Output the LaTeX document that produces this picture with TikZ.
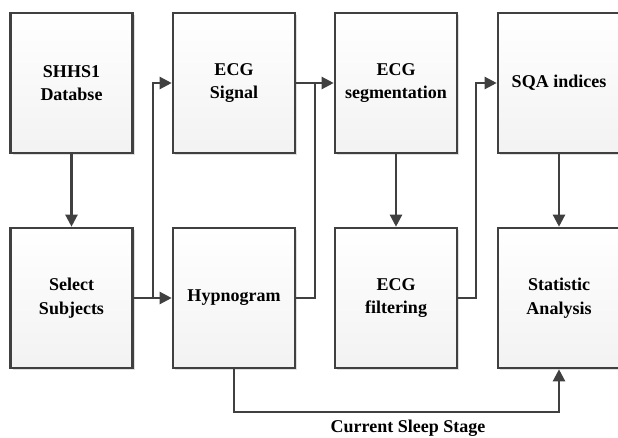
\documentclass[tikz,border=0pt]{standalone}
\usepackage{fontspec}
\setmainfont{Liberation Serif}
\usetikzlibrary{arrows.meta,shadows,calc}
\definecolor{lc}{HTML}{404040}
\begin{document}
\begin{tikzpicture}[x=1pt,y=-1pt,
  blk/.style={draw=lc, line width=2.6pt, top color=white, bottom color=gray!10,
    minimum width=122pt, minimum height=140pt, inner sep=0pt,
    align=center, font=\fontsize{18}{23.5}\selectfont\bfseries,
    drop shadow={shadow xshift=2pt, shadow yshift=-2pt, fill=gray!25, opacity=1}},
  arr/.style={draw=lc, line width=2.3pt, -{Triangle[length=12pt,width=12pt]}},
  ln/.style={draw=lc, line width=2.3pt}]
\useasboundingbox (0,0) rectangle (618,437);
\node[blk] (db)   at (71.5,83) {SHHS1\\Databse};
\node[blk] (sig)  at (234,83)  {ECG\\Signal};
\node[blk] (seg)  at (396,83)  {ECG\\segmentation};
\node[blk] (sqa)  at (559,83)  {SQA indices};
\node[blk] (sel)  at (71.5,298) {Select\\Subjects};
\node[blk] (hyp)  at (234,298) {Hypnogram};
\node[blk] (filt) at (396,298) {ECG\\filtering};
\node[blk] (stat) at (559,298) {Statistic\\Analysis};
\coordinate (j1) at (153,298);
\coordinate (j2) at (315,83);
\coordinate (j3) at (476,190);
\coordinate (j4) at (234,412);
\draw[arr] (db) -- (sel);
\draw[arr] (sel) -- (hyp);
\draw[arr] (j1) |- (sig.west);
\draw[arr] (sig) -- (seg);
\draw[ln] (hyp.east) -| (j2);
\draw[arr] (seg) -- (filt);
\draw[arr] (filt.east) -| (j3) |- (sqa.west);
\draw[arr] (sqa) -- (stat);
\draw[arr] (hyp.south) -- (j4) -| (stat.south);
\node[font=\fontsize{18}{20}\selectfont\bfseries] (lbl) at (408,428) {Current Sleep Stage};
\end{tikzpicture}
\end{document}
